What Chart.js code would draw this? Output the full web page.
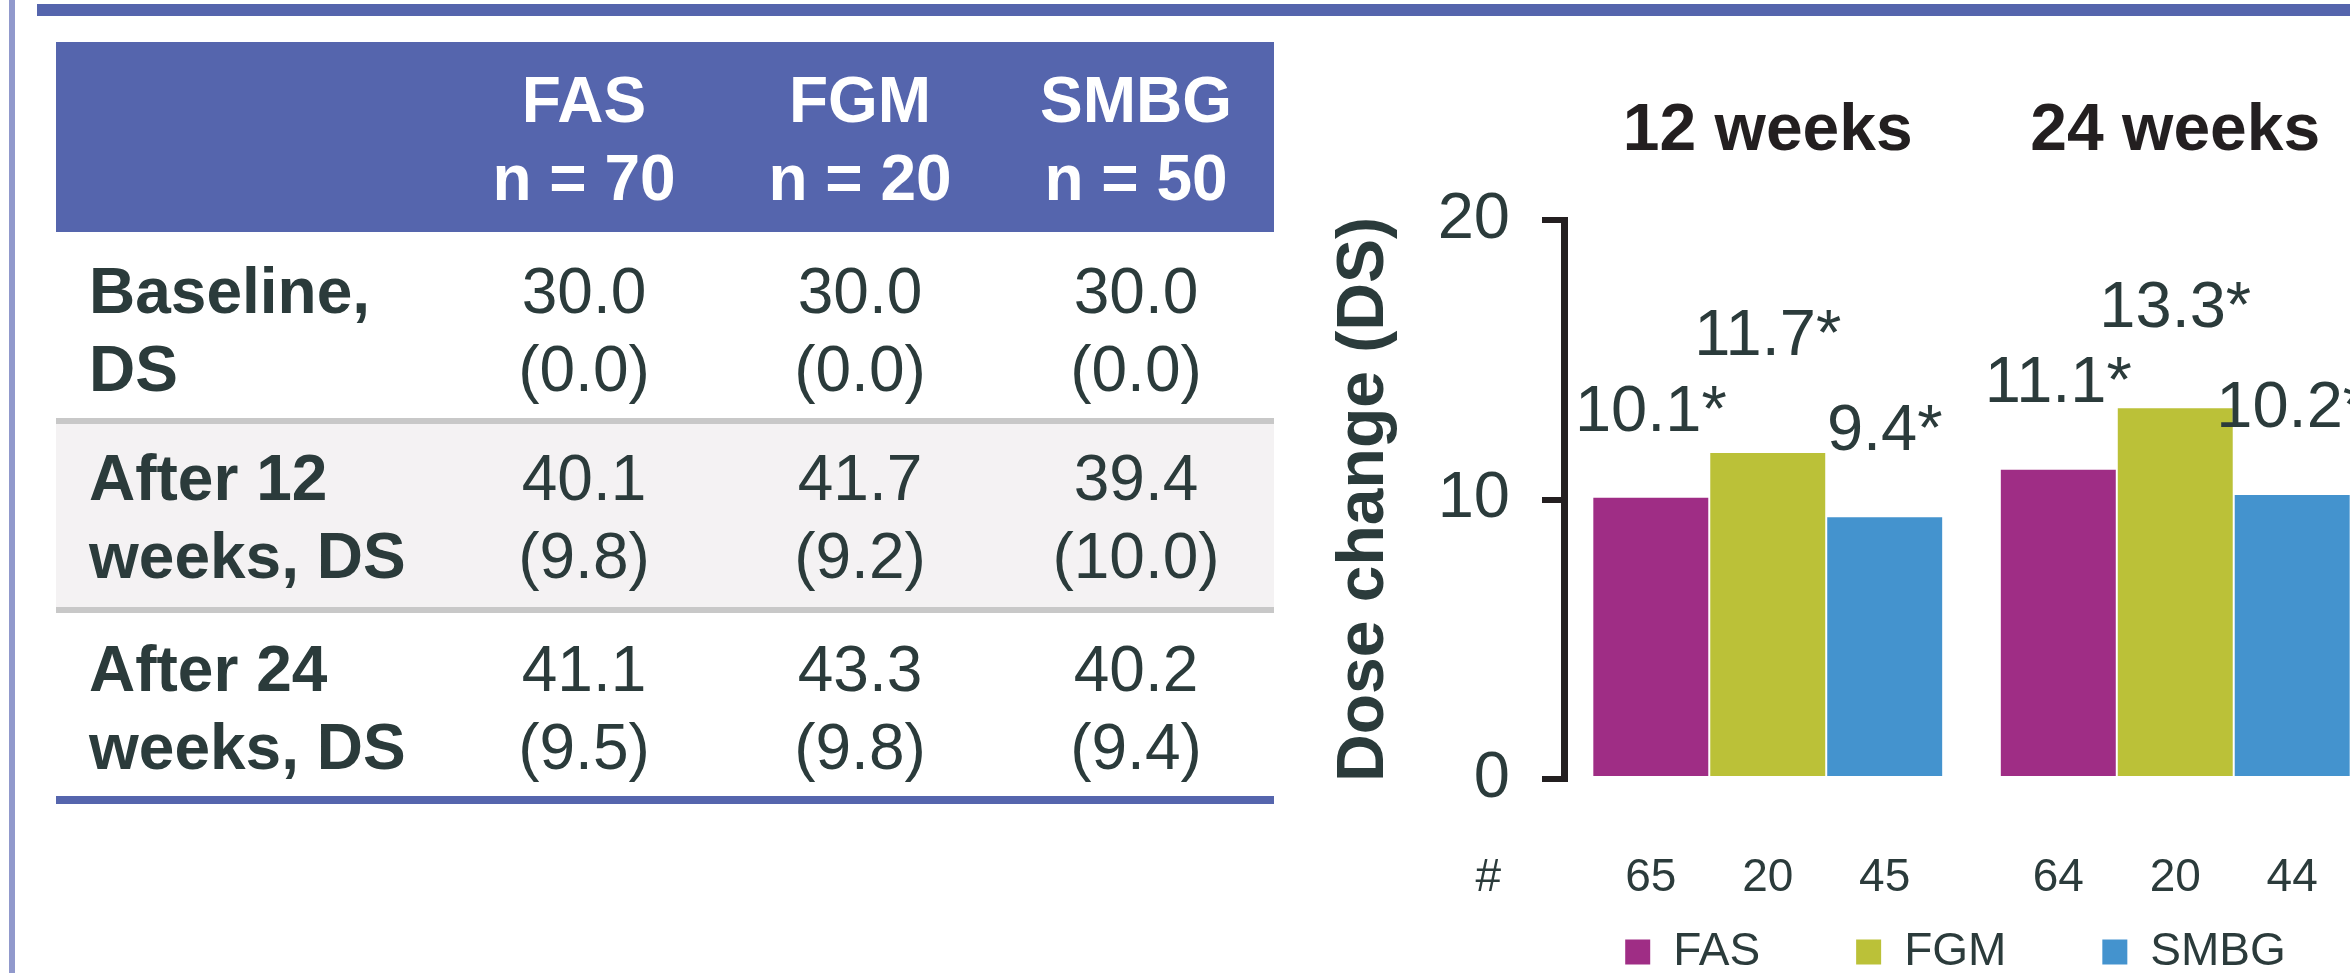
<!DOCTYPE html>
<html>
<head>
<meta charset="utf-8">
<title>Dose change with FAS, FGM and SMBG</title>
<script src="https://cdn.jsdelivr.net/npm/chart.js@4.4.1/dist/chart.umd.min.js"></script>
<style>
  html, body { margin: 0; padding: 0; background: #ffffff; }
  body {
    width: 2350px; height: 973px; overflow: hidden; position: relative;
    font-family: 'Liberation Sans', Arial, Helvetica, sans-serif; color: #2b3b3b;
  }
  .block { position: absolute; }
  .cell { position: absolute; font-size: 64px; line-height: 78px; white-space: pre; }
  .num { width: 300px; text-align: center; }
  .lab { font-weight: bold; }
  .hd { color: #ffffff; font-weight: bold; }
</style>
</head>
<body>
<div class="block" style="left:9px;top:0;width:6px;height:973px;background:#9199cc"></div>
<div class="block" style="left:37px;top:4px;width:2313px;height:12px;background:#5565ad;z-index:2"></div>
<div id="table"></div>
<canvas id="doseChart" width="1271" height="985" style="position:absolute;left:1320px;top:0"></canvas>
<script>
// ---- table values (mean and SD of daily dose, DS) ----
const groups = ['FAS', 'FGM', 'SMBG'];
const groupSizes = [70, 20, 50];
const rowLabels = ['Baseline,\nDS', 'After 12\nweeks, DS', 'After 24\nweeks, DS'];
const baselineMean = [30.0, 30.0, 30.0];
const baselineSD = [0.0, 0.0, 0.0];
const week12Mean = [40.1, 41.7, 39.4];
const week12SD = [9.8, 9.2, 10.0];
const week24Mean = [41.1, 43.3, 40.2];
const week24SD = [9.5, 9.8, 9.4];

// ---- bar chart values (dose change from baseline, DS) ----
const periods = ['12 weeks', '24 weeks'];
const fasChange = [10.1, 11.1];
const fgmChange = [11.7, 13.3];
const smbgChange = [9.4, 10.2];
const fasCount = [65, 64];
const fgmCount = [20, 20];
const smbgCount = [45, 44];
const yTicks = [0, 10, 20];

const groupColors = ['#9f2d85', '#bbc138', '#4493ce'];
const textColor = '#2b3b3b';
const axisColor = '#231f20';
const fontFamily = "'Liberation Sans', Arial, Helvetica, sans-serif";

// ---- summary table ----
(function buildTable() {
  const host = document.getElementById('table');
  const add = (cls, style, text) => {
    const d = document.createElement('div');
    d.className = cls;
    d.setAttribute('style', style);
    if (text !== undefined) d.textContent = text;
    host.appendChild(d);
  };
  const left = 56, width = 1218;
  const colCenters = [584, 860, 1136];
  // header band
  add('block', `left:${left}px;top:42px;width:${width}px;height:190px;background:#5565ad`);
  groups.forEach((g, i) => {
    add('cell num hd', `left:${colCenters[i] - 150}px;top:61px`, g + '\nn = ' + groupSizes[i]);
  });
  // shaded middle row and rules
  add('block', `left:${left}px;top:424px;width:${width}px;height:183px;background:#f4f2f3`);
  add('block', `left:${left}px;top:418px;width:${width}px;height:6px;background:#c8c8c8`);
  add('block', `left:${left}px;top:607px;width:${width}px;height:6px;background:#c8c8c8`);
  add('block', `left:${left}px;top:796px;width:${width}px;height:8px;background:#5565ad`);

  const rows = [
    [baselineMean, baselineSD],
    [week12Mean, week12SD],
    [week24Mean, week24SD]
  ];
  const rowTops = [252, 439, 630];
  rows.forEach(([mean, sd], r) => {
    add('cell lab', `left:89px;top:${rowTops[r]}px`, rowLabels[r]);
    mean.forEach((m, c) => {
      add('cell num', `left:${colCenters[c] - 150}px;top:${rowTops[r]}px`,
          m.toFixed(1) + '\n(' + sd[c].toFixed(1) + ')');
    });
  });
})();

// ---- value labels above bars and patient counts below ----
const barAnnotations = {
  id: 'barAnnotations',
  afterDatasetsDraw(chart, args, opts) {
    const ctx = chart.ctx;
    const area = chart.chartArea;
    ctx.save();
    ctx.fillStyle = textColor;
    ctx.textAlign = 'center';
    ctx.textBaseline = 'alphabetic';
    chart.data.datasets.forEach((ds, di) => {
      const meta = chart.getDatasetMeta(di);
      meta.data.forEach((bar, i) => {
        ctx.font = `${opts.valueSize}px ${fontFamily}`;
        ctx.fillText(ds.data[i].toFixed(1) + '*', bar.x, bar.y - opts.lift[di][i]);
        ctx.font = `${opts.countSize}px ${fontFamily}`;
        ctx.fillText(String(ds.counts[i]), bar.x, area.bottom + opts.countDrop);
      });
    });
    ctx.textAlign = 'right';
    ctx.font = `${opts.countSize}px ${fontFamily}`;
    ctx.fillText('#', area.left - opts.hashGap, area.bottom + opts.countDrop);
    ctx.restore();
  }
};

const datasets = [
  { label: 'FAS', data: fasChange, counts: fasCount },
  { label: 'FGM', data: fgmChange, counts: fgmCount },
  { label: 'SMBG', data: smbgChange, counts: smbgCount }
].map((d, i) => Object.assign(d, {
  backgroundColor: groupColors[i],
  borderColor: 'rgba(255,255,255,0.45)',
  borderWidth: 1,
  borderSkipped: 'bottom',
  categoryPercentage: 0.861,
  barPercentage: 1.0
}));

Chart.defaults.font.family = fontFamily;
Chart.defaults.color = textColor;

new Chart(document.getElementById('doseChart'), {
  type: 'bar',
  data: { labels: periods, datasets },
  plugins: [barAnnotations],
  options: {
    responsive: false,
    animation: false,
    layout: { padding: 0 },
    plugins: {
      tooltip: { enabled: false },
      legend: {
        display: true,
        position: 'bottom',
        labels: {
          color: textColor,
          font: { size: 46 },
          boxWidth: 25,
          boxHeight: 25,
          padding: 96,
          generateLabels(chart) {
            return Chart.defaults.plugins.legend.labels.generateLabels(chart)
              .map(item => Object.assign(item, { lineWidth: 0 }));
          }
        }
      },
      barAnnotations: {
        valueSize: 65,
        countSize: 46,
        lift: [[66, 67], [97, 80], [66, 67]],
        countDrop: 112,
        hashGap: 63
      }
    },
    scales: {
      x: {
        position: 'bottom',
        offset: true,
        grid: { display: false },
        border: { display: false },
        ticks: { display: false },
        afterFit(scale) { scale.height = 54; }
      },
      x2: {
        type: 'category',
        labels: periods,
        position: 'top',
        offset: true,
        grid: { display: false, drawTicks: false },
        border: { display: false },
        ticks: { color: axisColor, font: { size: 66, weight: 'bold' }, padding: 49 },
        afterFit(scale) { scale.height = 220; }
      },
      y: {
        position: 'left',
        min: yTicks[0],
        max: yTicks[yTicks.length - 1],
        ticks: {
          stepSize: yTicks[1] - yTicks[0],
          color: textColor,
          font: { size: 65 },
          padding: 32
        },
        grid: {
          display: true,
          drawOnChartArea: false,
          drawTicks: true,
          tickLength: 22,
          lineWidth: 6,
          color: axisColor
        },
        border: { display: true, width: 7, color: axisColor },
        title: {
          display: true,
          text: 'Dose change (DS)',
          color: textColor,
          font: { size: 66, weight: 'bold' },
          padding: { top: 5, bottom: 0 }
        },
        afterFit(scale) { scale.width = 244; }
      },
      spacer: {
        type: 'linear',
        position: 'right',
        display: true,
        grid: { display: false },
        border: { display: false },
        ticks: { display: false },
        afterFit(scale) { scale.width = 212; }
      }
    }
  }
});
</script>
</body>
</html>
